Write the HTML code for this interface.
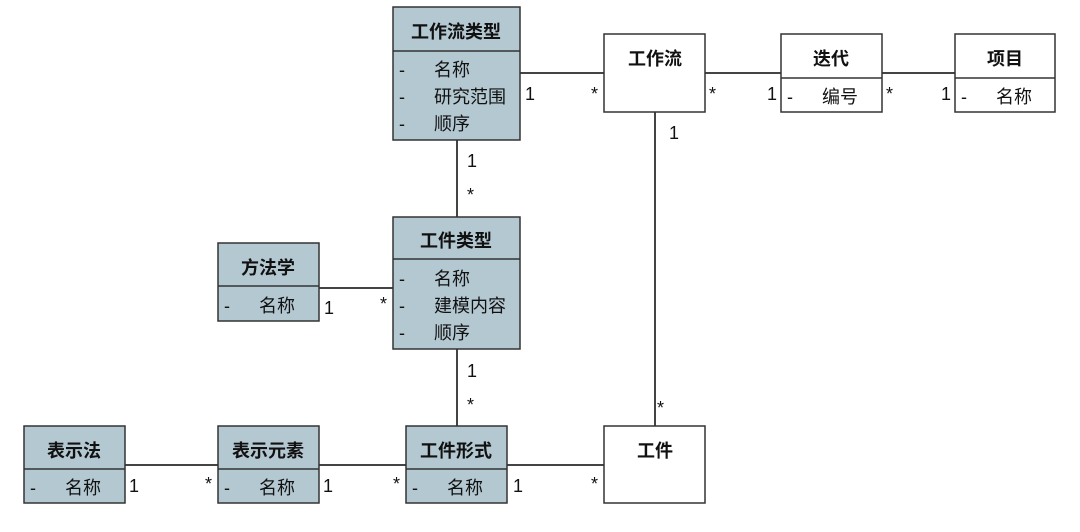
<!DOCTYPE html>
<html><head><meta charset="utf-8"><style>
html,body{margin:0;padding:0;background:#fff;}
svg{display:block;}
text{font-family:"Liberation Sans","Noto Sans CJK SC",sans-serif;fill:#111;}
.h{font-weight:bold;font-size:18px;text-anchor:middle;}
.a{font-size:18px;}
.m{font-size:18px;}
</style></head><body>
<svg width="1080" height="532" viewBox="0 0 1080 532" xmlns="http://www.w3.org/2000/svg">
<g stroke="#444" stroke-width="2" fill="none">
<line x1="520" y1="73" x2="604" y2="73"/>
<line x1="705" y1="73" x2="781" y2="73"/>
<line x1="882" y1="73" x2="955" y2="73"/>
<line x1="457" y1="140" x2="457" y2="217"/>
<line x1="457" y1="349" x2="457" y2="426"/>
<line x1="655" y1="112" x2="655" y2="426"/>
<line x1="319" y1="288" x2="393" y2="288"/>
<line x1="125" y1="465" x2="218" y2="465"/>
<line x1="319" y1="465" x2="406" y2="465"/>
<line x1="507" y1="465" x2="604" y2="465"/>
</g>
<g stroke="#333" stroke-width="1.5">
<rect x="393" y="7" width="127" height="133" fill="#b4c8d2"/><line x1="393" y1="51" x2="520" y2="51"/>
<rect x="604" y="34" width="101" height="78" fill="#fff"/>
<rect x="781" y="34" width="101" height="78" fill="#fff"/><line x1="781" y1="78" x2="882" y2="78"/>
<rect x="955" y="34" width="100" height="78" fill="#fff"/><line x1="955" y1="78" x2="1055" y2="78"/>
<rect x="393" y="217" width="127" height="132" fill="#b4c8d2"/><line x1="393" y1="259" x2="520" y2="259"/>
<rect x="218" y="243" width="101" height="78" fill="#b4c8d2"/><line x1="218" y1="286" x2="319" y2="286"/>
<rect x="24" y="426" width="101" height="77" fill="#b4c8d2"/><line x1="24" y1="469" x2="125" y2="469"/>
<rect x="218" y="426" width="101" height="77" fill="#b4c8d2"/><line x1="218" y1="469" x2="319" y2="469"/>
<rect x="406" y="426" width="101" height="77" fill="#b4c8d2"/><line x1="406" y1="469" x2="507" y2="469"/>
<rect x="604" y="426" width="101" height="77" fill="#fff"/>
</g>
<text class="h" x="456" y="38">工作流类型</text>
<text class="a" x="399" y="76">-</text><text class="a" x="434" y="76">名称</text>
<text class="a" x="399" y="103">-</text><text class="a" x="434" y="103">研究范围</text>
<text class="a" x="399" y="130">-</text><text class="a" x="434" y="130">顺序</text>
<text class="h" x="655" y="65">工作流</text>
<text class="h" x="831" y="65">迭代</text>
<text class="a" x="787" y="103">-</text><text class="a" x="822" y="103">编号</text>
<text class="h" x="1005" y="65">项目</text>
<text class="a" x="961" y="103">-</text><text class="a" x="996" y="103">名称</text>
<text class="h" x="456" y="247">工件类型</text>
<text class="a" x="399" y="285">-</text><text class="a" x="434" y="285">名称</text>
<text class="a" x="399" y="312">-</text><text class="a" x="434" y="312">建模内容</text>
<text class="a" x="399" y="339">-</text><text class="a" x="434" y="339">顺序</text>
<text class="h" x="268" y="274">方法学</text>
<text class="a" x="224" y="312">-</text><text class="a" x="259" y="312">名称</text>
<text class="h" x="74" y="457">表示法</text>
<text class="a" x="30" y="494">-</text><text class="a" x="65" y="494">名称</text>
<text class="h" x="268" y="457">表示元素</text>
<text class="a" x="224" y="494">-</text><text class="a" x="259" y="494">名称</text>
<text class="h" x="456" y="457">工件形式</text>
<text class="a" x="412" y="494">-</text><text class="a" x="447" y="494">名称</text>
<text class="h" x="655" y="457">工件</text>
<text class="m" x="525" y="100">1</text><text class="m" x="591" y="100">*</text>
<text class="m" x="709" y="100">*</text><text class="m" x="767" y="100">1</text>
<text class="m" x="886" y="100">*</text><text class="m" x="941" y="100">1</text>
<text class="m" x="669" y="139">1</text><text class="m" x="657" y="414">*</text>
<text class="m" x="467" y="167">1</text><text class="m" x="467" y="201">*</text>
<text class="m" x="467" y="377">1</text><text class="m" x="467" y="411">*</text>
<text class="m" x="324" y="314">1</text><text class="m" x="380" y="310">*</text>
<text class="m" x="129" y="492">1</text><text class="m" x="205" y="490">*</text>
<text class="m" x="323" y="492">1</text><text class="m" x="393" y="490">*</text>
<text class="m" x="513" y="492">1</text><text class="m" x="591" y="490">*</text>
</svg>
</body></html>
